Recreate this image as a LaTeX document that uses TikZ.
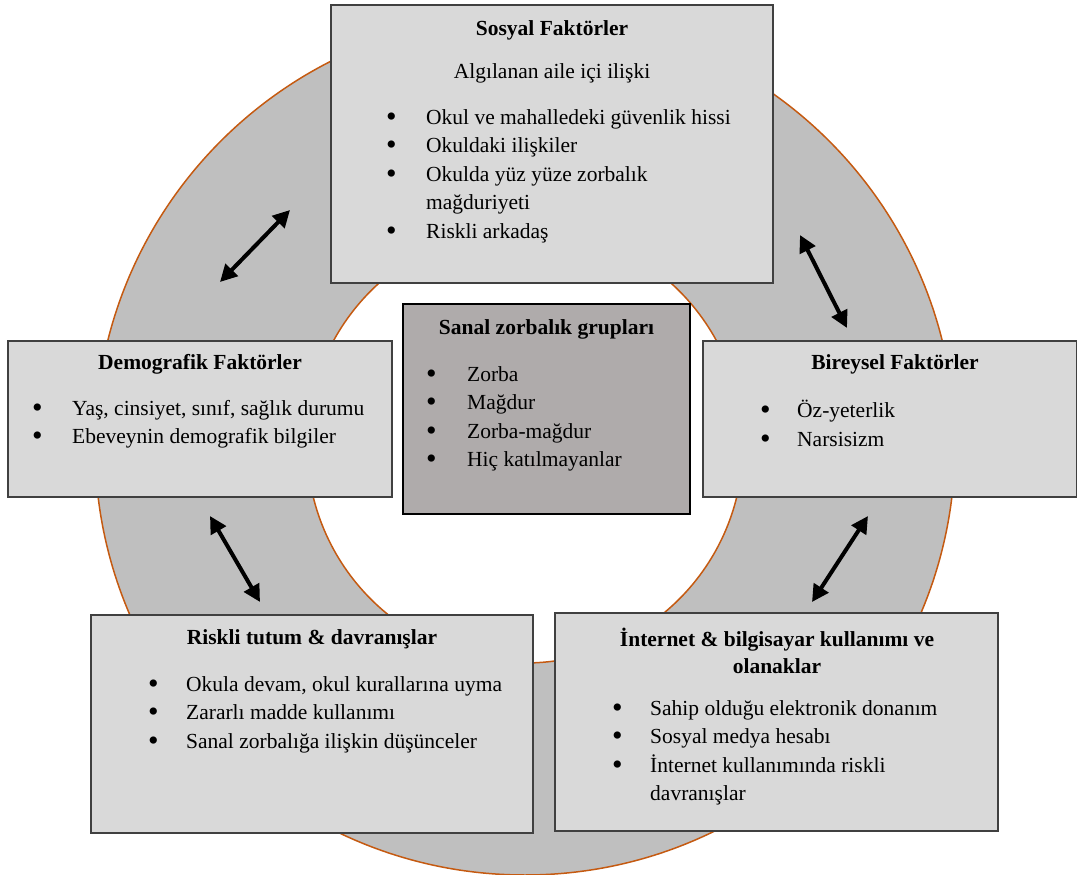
\documentclass[tikz,border=0pt]{standalone}
\usepackage{fontspec}
\setmainfont{Liberation Serif}
\usetikzlibrary{arrows.meta}
\definecolor{kutugri}{HTML}{D9D9D9}
\definecolor{merkezgri}{HTML}{AFABAB}
\definecolor{halkagri}{HTML}{BFBFBF}
\definecolor{halkakenar}{HTML}{C55A11}
\newcommand{\madde}[2][38pt]{\makebox[#1][l]{\raisebox{-2pt}{\scalebox{1.4}{\textbullet}}}#2}
\begin{document}
\begin{tikzpicture}[x=1pt,y=-1pt,
kutu/.style={draw=black!75,line width=1.2pt,fill=kutugri,inner sep=0pt},
merkez/.style={draw=black,line width=1.2pt,fill=merkezgri,inner sep=0pt},
baslik/.style={font=\fontsize{21.5}{27}\selectfont\bfseries,align=center,inner sep=0pt},
liste/.style={font=\fontsize{21.5}{28.5}\selectfont,align=left,anchor=north west,inner sep=0pt},
ok/.style={line width=4pt,{Triangle[length=17pt,width=17pt]}-{Triangle[length=17pt,width=17pt]}}]
	\useasboundingbox (0,0) rectangle (1077,875);
	\fill[halkagri,even odd rule] (525,445) circle[radius=430pt] (525,445) circle[radius=218pt];
	\draw[halkakenar,line width=1.5pt] (525,445) circle[radius=430pt] (525,445) circle[radius=218pt];
	\node[kutu,minimum width=442,minimum height=278] (sosyal) at (552,144) {};
	\node[merkez,minimum width=287,minimum height=210] (grup) at (546.5,409) {};
	\node[kutu,minimum width=384,minimum height=156] (demografik) at (200,419) {};
	\node[kutu,minimum width=374,minimum height=156] (bireysel) at (890,419) {};
	\node[kutu,minimum width=442,minimum height=218] (riskli) at (312,724) {};
	\node[kutu,minimum width=443,minimum height=218] (internet) at (776.5,722) {};
	\node[baslik] (sosyal-b) at (552,30) {Sosyal Faktörler};
	\node[liste,anchor=center,align=center] (sosyal-a) at (552,73) {Algılanan aile içi ilişki};
	\node[liste] (sosyal-l) at (386,109) {\madde[40pt]{Okul ve mahalledeki güvenlik hissi}\\
		\madde[40pt]{Okuldaki ilişkiler}\\
		\madde[40pt]{Okulda yüz yüze zorbalık}\\
		\hspace*{40pt}mağduriyeti\\
		\madde[40pt]{Riskli arkadaş}};
	\node[baslik] (grup-b) at (546.5,329) {Sanal zorbalık grupları};
	\node[liste] (grup-l) at (426,366) {\madde[41pt]{Zorba}\\
		\madde[41pt]{Mağdur}\\
		\madde[41pt]{Zorba-mağdur}\\
		\madde[41pt]{Hiç katılmayanlar}};
	\node[baslik] (demografik-b) at (200,364) {Demografik Faktörler};
	\node[liste] (demografik-l) at (32,400) {\madde[40pt]{Yaş, cinsiyet, sınıf, sağlık durumu}\\
		\madde[40pt]{Ebeveynin demografik bilgiler}};
	\node[baslik] (bireysel-b) at (895,364) {Bireysel Faktörler};
	\node[liste] (bireysel-l) at (760,400) {\madde[37pt]{Öz-yeterlik}\\
		\madde[37pt]{Narsisizm}};
	\node[baslik] (riskli-b) at (312,639) {Riskli tutum \& davranışlar};
	\node[liste] (riskli-l) at (148,676) {\madde[38pt]{Okula devam, okul kurallarına uyma}\\
		\madde[38pt]{Zararlı madde kullanımı}\\
		\madde[38pt]{Sanal zorbalığa ilişkin düşünceler}};
	\node[baslik] (internet-b) at (777,651) {İnternet \& bilgisayar kullanımı ve\\olanaklar};
	\node[liste] (internet-l) at (612,700) {\madde[38pt]{Sahip olduğu elektronik donanım}\\
		\madde[38pt]{Sosyal medya hesabı}\\
		\madde[38pt]{İnternet kullanımında riskli}\\
		\hspace*{38pt}davranışlar};
	\coordinate (sd-1) at (220,282);
	\coordinate (sd-2) at (290,210);
	\coordinate (sb-1) at (800,235);
	\coordinate (sb-2) at (847,328);
	\coordinate (dr-1) at (210,516);
	\coordinate (dr-2) at (260,602);
	\coordinate (bi-1) at (812,602);
	\coordinate (bi-2) at (868,516);
	\draw[ok] (sd-1) -- (sd-2);
	\draw[ok] (sb-1) -- (sb-2);
	\draw[ok] (dr-1) -- (dr-2);
	\draw[ok] (bi-1) -- (bi-2);
\end{tikzpicture}
\end{document}
